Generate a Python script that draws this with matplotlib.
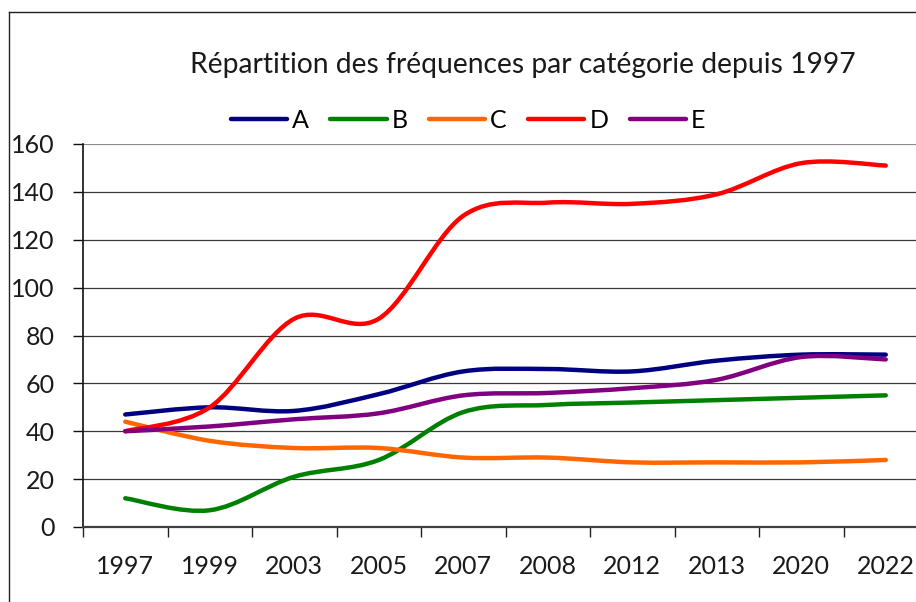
import matplotlib
matplotlib.use("Agg")
import matplotlib.pyplot as plt
import numpy as np
from matplotlib.path import Path
from matplotlib.patches import PathPatch
from matplotlib.lines import Line2D

years = ["1997", "1999", "2003", "2005", "2007", "2008", "2012", "2013", "2020", "2022"]
serie_a = [47, 50, 48.5, 55.5, 65, 66, 65, 69.5, 72, 72]
serie_b = [12, 7, 21, 28, 48, 51, 52, 53, 54, 55]
serie_c = [44, 36, 33, 33, 29, 29, 27, 27, 27, 28]
serie_d = [40, 50, 87, 87, 130, 135.5, 135, 139, 152, 151]
serie_e = [40, 42, 45, 47.5, 55, 56, 58, 61.5, 71, 70]
names = ["A", "B", "C", "D", "E"]
colors = ["#000080", "#008000", "#FF6600", "#FF0000", "#800080"]
title = "Répartition des fréquences par catégorie depuis 1997"
yticks = [0, 20, 40, 60, 80, 100, 120, 140, 160]

FONT = "Lato"
W, H = 916, 602
fig = plt.figure(figsize=(W / 100, H / 100), dpi=100)
ax = fig.add_axes([83 / W, 75 / H, 845 / W, 383 / H])


def smooth_path(xs, ys):
    pts = np.column_stack([xs, ys]).astype(float)
    n = len(pts)
    verts = [pts[0]]
    codes = [Path.MOVETO]
    for i in range(n - 1):
        p0 = pts[i - 1] if i > 0 else pts[i]
        p1 = pts[i]
        p2 = pts[i + 1]
        p3 = pts[i + 2] if i + 2 < n else pts[i + 1]
        c1 = p1 + (p2 - p0) / 6.0
        c2 = p2 - (p3 - p1) / 6.0
        verts += [c1, c2, p2]
        codes += [Path.CURVE4] * 3
    return Path(verts, codes)


xs = np.arange(len(years))
series = [serie_a, serie_b, serie_c, serie_d, serie_e]
handles = []
for vals, name, col in zip(series, names, colors):
    patch = PathPatch(smooth_path(xs, vals), facecolor="none", edgecolor=col,
                      lw=3.2, capstyle="round", joinstyle="round", zorder=3)
    ax.add_patch(patch)
    handles.append(Line2D([], [], color=col, lw=3.2, solid_capstyle="round", label=name))

ax.set_xlim(-0.5, len(years) - 0.5)
ax.set_ylim(0, 160)

# grid lines
for v in yticks[1:-1]:
    ax.axhline(v, color="#3a3a3a", lw=0.9, zorder=1)
ax.axhline(160, color="#8c8c8c", lw=1.6, zorder=1)

for s in ["top", "right"]:
    ax.spines[s].set_visible(False)
ax.spines["left"].set_color("#111111")
ax.spines["left"].set_linewidth(1.2)
ax.spines["bottom"].set_color("#404040")
ax.spines["bottom"].set_linewidth(1.6)

ax.set_yticks(yticks)
ax.set_yticklabels([str(v) for v in yticks], fontfamily=FONT, fontsize=18, color="#1a1a1a")
ax.tick_params(axis="y", direction="out", length=7.2, width=1.0, color="#111111", pad=13)

ax.set_xticks(np.arange(-0.5, len(years), 1.0))
ax.set_xticklabels([])
ax.tick_params(axis="x", which="major", direction="out", length=7.2, width=1.0, color="#222222")
ax.set_xticks(xs, minor=True)
ax.set_xticklabels(years, minor=True, fontfamily=FONT, fontsize=18, color="#1a1a1a")
ax.tick_params(axis="x", which="minor", length=0, pad=20)

fig.text(523 / W, 1 - 65 / H, title, ha="center", va="center",
         fontfamily=FONT, fontsize=20.3, color="#1a1a1a")

fig.legend(handles=handles, loc="center", bbox_to_anchor=(468 / W, 1 - 120 / H),
           ncol=5, frameon=False, handlelength=2.25, handletextpad=0.2,
           columnspacing=0.85, prop={"family": FONT, "size": 18})

# chart frame (left and top edges visible)
fig.add_artist(Line2D([9 / W, 9 / W], [0, 1 - 12 / H], transform=fig.transFigure,
                      color="#222222", lw=1.0))
fig.add_artist(Line2D([9 / W, 1], [1 - 12 / H, 1 - 12 / H], transform=fig.transFigure,
                      color="#222222", lw=1.0))

fig.savefig("out.png", dpi=100)
